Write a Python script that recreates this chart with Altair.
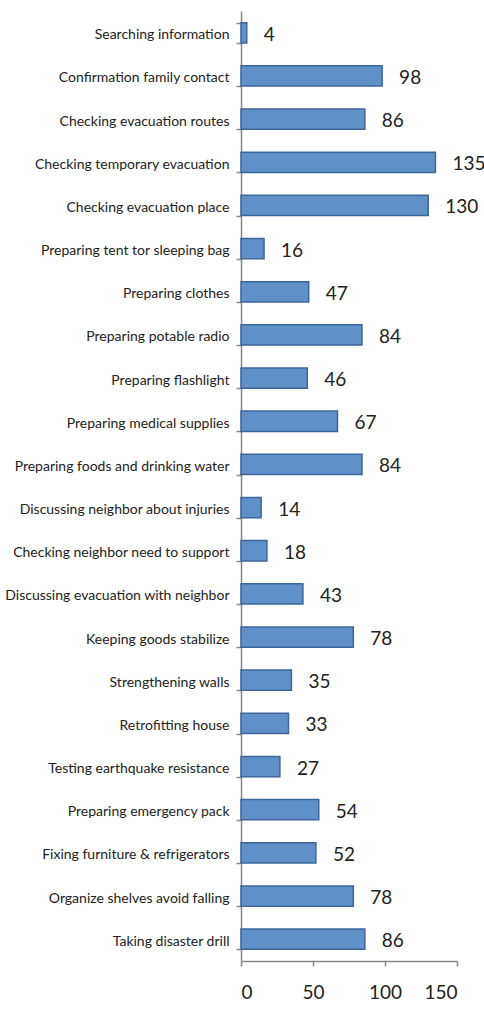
import altair as alt
import pandas as pd

categories = [
    "Searching information",
    "Confirmation family contact",
    "Checking evacuation routes",
    "Checking temporary evacuation",
    "Checking evacuation place",
    "Preparing tent tor sleeping bag",
    "Preparing clothes",
    "Preparing potable radio",
    "Preparing flashlight",
    "Preparing medical supplies",
    "Preparing foods and drinking water",
    "Discussing neighbor about injuries",
    "Checking neighbor need to support",
    "Discussing evacuation with neighbor",
    "Keeping goods stabilize",
    "Strengthening walls",
    "Retrofitting house",
    "Testing earthquake resistance",
    "Preparing emergency pack",
    "Fixing furniture & refrigerators",
    "Organize shelves avoid falling",
    "Taking disaster drill",
]
values = [4, 98, 86, 135, 130, 16, 47, 84, 46, 67, 84, 14, 18, 43, 78, 35, 33, 27, 54, 52, 78, 86]
x_ticks = [0, 50, 100, 150]

df = pd.DataFrame({"item": categories, "count": values})

FONT = "Lato"

y = alt.Y(
    "item:N",
    sort=categories,
    scale=alt.Scale(paddingInner=0.53, paddingOuter=0.27),
    axis=alt.Axis(
        title=None,
        tickBand="extent",
        tickSize=5,
        tickColor="#868686",
        domainColor="#868686",
        domainWidth=1.5,
        tickWidth=1.5,
        labelFont=FONT,
        labelFontSize=14,
        labelColor="#222222",
        labelPadding=7,
        labelOffset=2,
        labelLimit=300,
    ),
)
x = alt.X(
    "count:Q",
    scale=alt.Scale(domain=[0, 150], nice=False),
    axis=alt.Axis(
        title=None,
        values=x_ticks,
        grid=False,
        tickSize=5,
        tickColor="#868686",
        domainColor="#868686",
        domainWidth=1.5,
        tickWidth=1.5,
        labelFont=FONT,
        labelFontSize=19,
        labelColor="#222222",
        labelPadding=17,
    ),
)

bars = alt.Chart(df).mark_bar(
    color="#5F90C8", stroke="#3C679A", strokeWidth=1.5
).encode(y=y, x=x)

labels = alt.Chart(df).mark_text(
    align="left", baseline="middle", dx=17, dy=2, font=FONT, fontSize=19, color="#222222"
).encode(y=alt.Y("item:N", sort=categories), x="count:Q", text="count:Q")

chart = (
    alt.layer(bars, labels)
    .properties(
        width=216,
        height=950,
        autosize=alt.AutoSizeParams(type="none"),
        padding={"left": 241, "top": 11, "right": 27, "bottom": 48},
        background="white",
    )
    .configure_view(stroke=None)
)

chart.save("out.html", embed_options={"renderer": "svg", "actions": False})
